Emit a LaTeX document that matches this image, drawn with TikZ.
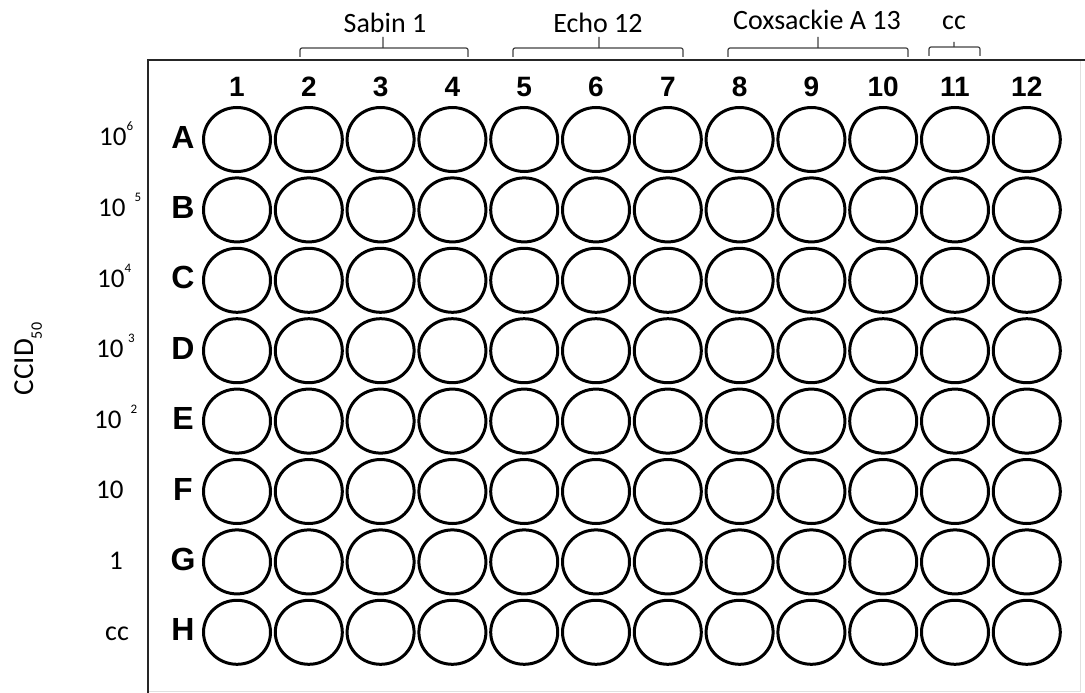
\documentclass[tikz,border=0pt]{standalone}
\usepackage{fontspec}
\setmainfont{Carlito}
\newfontfamily\platefont{Liberation Sans}
\usetikzlibrary{positioning}

\newcommand{\dilexp}[1]{\raisebox{15pt}{\fontsize{13}{13}\selectfont #1}}

\tikzset{
	well/.style={draw=black, line width=3pt},
	rowlab/.style={font=\platefont\bfseries\fontsize{32}{34}\selectfont, anchor=base, inner sep=0pt},
	collab/.style={font=\platefont\bfseries\fontsize{28}{30}\selectfont, anchor=base, inner sep=0pt},
	dillab/.style={font=\fontsize{27}{29}\selectfont, anchor=base west, inner sep=0pt},
	virlab/.style={font=\fontsize{28}{30}\selectfont, anchor=base, inner sep=0pt},
	bracket/.style={draw=black!75, line width=1.2pt, rounded corners=2pt}
}

\begin{document}
\begin{tikzpicture}[x=1pt, y=-1pt]
\useasboundingbox (0,0) rectangle (1085,693);

% ---- placa ----
\draw[black!12, line width=1pt] (1080,60) -- (1080,691) -- (148,691);
\draw[black!85, line width=2pt] (148,693) -- (148,60) -- (1085,60);

% ---- poços ----
\foreach \r [count=\i from 0] in {A,...,H}{
	\node[rowlab] (row-\r) at (183,{148+70.4*\i}) {\r};
	\foreach \c in {1,...,12}
		\draw[well] ({237+71.8*(\c-1)},{139.5+70.4*\i}) ellipse [x radius=33.5pt, y radius=32pt];
}
\foreach \c in {1,...,12}
	\node[collab] (col-\c) at ({237+71.8*(\c-1)},96) {\c};

% ---- diluições ----
\node[dillab] (dil-A) at (99,146) {10\dilexp{6}};
\node[dillab] (dil-B) at (98,216) {10\,\,\dilexp{5}};
\node[dillab] (dil-C) at (97,287) {10\dilexp{4}};
\node[dillab] (dil-D) at (96,357) {10\,\dilexp{3}};
\node[dillab] (dil-E) at (94,428) {10\,\,\dilexp{2}};
\node[dillab] (dil-F) at (96,498) {10};
\node[dillab, anchor=base] (dil-G) at (116,569) {1};
\node[virlab] (dil-H) at (117,640) {cc};
\node[rotate=90, anchor=base, inner sep=0pt, font=\fontsize{29}{31}\selectfont] (ccid) at (33,359)
	{CCID\raisebox{-9pt}{\fontsize{16}{16}\selectfont 50}};

% ---- vírus ----
\node[virlab] (sabin) at (385,33) {Sabin 1};
\node[virlab] (echo) at (598,33) {Echo 12};
\node[virlab] (coxsackie) at (817,30) {Coxsackie A 13};
\node[virlab] (cc) at (954,30) {cc};
\draw[bracket] (300,57) |- (468,48) -- (468,57) (383,48) -- (383,37);
\draw[bracket] (513,57) |- (683,48) -- (683,57) (599,48) -- (599,37);
\draw[bracket] (728,57) |- (908,48) -- (908,57) (818,48) -- (818,37);
\draw[bracket] (929,56) |- (980,47) -- (980,56) (954,47) -- (954,42);
\end{tikzpicture}
\end{document}
